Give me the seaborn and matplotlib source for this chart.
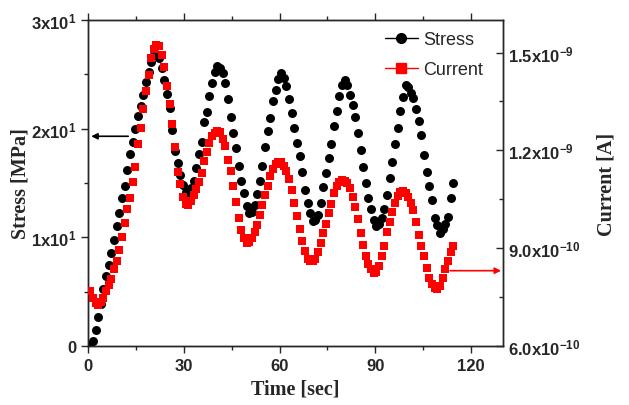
import numpy as np
import pandas as pd
import matplotlib
matplotlib.use("Agg")
import matplotlib.pyplot as plt
from matplotlib.lines import Line2D
from matplotlib.ticker import FixedLocator, FixedFormatter, MultipleLocator
import seaborn as sns

# -----------------------
# data
# -----------------------
time_sec = [
    0.70, 1.53, 2.36, 3.19, 4.02, 4.85, 5.68, 6.51, 7.34, 8.17,
    9.00, 9.83, 10.66, 11.49, 12.32, 13.15, 13.98, 14.81, 15.64, 16.47,
    17.30, 18.13, 18.96, 19.79, 20.62, 21.45, 22.28, 23.11, 23.94, 24.77,
    25.60, 26.43, 27.26, 28.09, 28.92, 29.75, 30.58, 31.41, 32.24, 33.07,
    33.90, 34.73, 35.56, 36.39, 37.22, 38.05, 38.88, 39.71, 40.54, 41.37,
    42.20, 43.03, 43.86, 44.69, 45.52, 46.35, 47.18, 48.01, 48.84, 49.67,
    50.50, 51.33, 52.16, 52.99, 53.82, 54.65, 55.48, 56.31, 57.14, 57.97,
    58.80, 59.63, 60.46, 61.29, 62.12, 62.95, 63.78, 64.61, 65.44, 66.27,
    67.10, 67.93, 68.76, 69.59, 70.42, 71.25, 72.08, 72.91, 73.74, 74.57,
    75.40, 76.23, 77.06, 77.89, 78.72, 79.55, 80.38, 81.21, 82.04, 82.87,
    83.70, 84.53, 85.36, 86.19, 87.02, 87.85, 88.68, 89.51, 90.34, 91.17,
    92.00, 92.83, 93.66, 94.49, 95.32, 96.15, 96.98, 97.81, 98.64, 99.47,
    100.30, 101.13, 101.96, 102.79, 103.62, 104.45, 105.28, 106.11, 106.94, 107.77,
    108.60, 109.43, 110.26, 111.09, 111.92, 112.75, 113.58, 114.41,
]

stress_mpa = [
    0.1, 0.5, 1.5, 2.7, 3.9, 5.2, 6.4, 7.5, 8.6, 9.8,
    11.0, 12.2, 13.6, 14.7, 16.2, 17.7, 18.8, 20.0, 21.2, 22.1,
    23.1, 24.3, 25.2, 26.1, 26.8, 26.9, 26.5, 25.6, 24.5, 23.2,
    21.9, 19.9, 17.9, 16.8, 15.7, 14.8, 14.2, 14.1, 14.5, 15.2,
    16.4, 17.7, 18.8, 20.6, 21.5, 23.0, 24.2, 25.2, 25.8, 25.6,
    25.1, 24.2, 22.7, 21.1, 19.6, 18.2, 16.6, 15.2, 14.1, 12.9,
    12.2, 12.3, 13.0, 14.0, 15.2, 16.6, 18.3, 19.8, 21.0, 22.5,
    23.6, 24.6, 25.1, 24.7, 23.9, 22.7, 21.4, 20.1, 18.7, 17.5,
    16.0, 14.4, 13.2, 12.2, 11.5, 11.6, 12.1, 13.2, 14.6, 15.9,
    17.3, 18.6, 20.2, 21.6, 23.0, 24.0, 24.5, 24.0, 23.1, 22.2,
    21.1, 19.6, 18.0, 16.5, 15.0, 13.6, 12.6, 11.6, 11.0, 11.2,
    11.8, 12.6, 13.9, 15.5, 16.9, 18.6, 20.1, 21.6, 22.9, 24.0,
    23.8, 23.3, 22.8, 21.8, 20.7, 19.4, 17.6, 16.0, 14.7, 13.4,
    11.8, 11.1, 10.4, 10.8, 11.2, 11.9, 13.6, 15.0,
]

# current in units of 1e-9 A
current_na = [
    0.768, 0.747, 0.732, 0.727, 0.734, 0.748, 0.768, 0.786, 0.805, 0.835,
    0.862, 0.896, 0.933, 0.977, 1.020, 1.055, 1.102, 1.150, 1.220, 1.268,
    1.327, 1.383, 1.432, 1.483, 1.510, 1.523, 1.519, 1.493, 1.455, 1.397,
    1.342, 1.280, 1.209, 1.133, 1.097, 1.058, 1.037, 1.033, 1.044, 1.062,
    1.081, 1.103, 1.132, 1.168, 1.196, 1.224, 1.243, 1.254, 1.260, 1.255,
    1.235, 1.213, 1.171, 1.138, 1.092, 1.042, 0.994, 0.956, 0.930, 0.917,
    0.918, 0.930, 0.950, 0.972, 1.002, 1.033, 1.064, 1.091, 1.120, 1.143,
    1.157, 1.163, 1.165, 1.153, 1.136, 1.113, 1.078, 1.040, 0.999, 0.960,
    0.922, 0.890, 0.868, 0.861, 0.862, 0.868, 0.887, 0.915, 0.946, 0.975,
    1.008, 1.037, 1.068, 1.092, 1.104, 1.109, 1.107, 1.099, 1.085, 1.058,
    1.026, 0.989, 0.948, 0.910, 0.876, 0.852, 0.836, 0.823, 0.826, 0.845,
    0.876, 0.908, 0.950, 0.980, 1.012, 1.040, 1.061, 1.071, 1.075, 1.070,
    1.058, 1.040, 1.016, 0.980, 0.942, 0.907, 0.875, 0.840, 0.810, 0.789,
    0.779, 0.775, 0.784, 0.808, 0.837, 0.862, 0.888, 0.906,
]

x_ticks = [0, 30, 60, 90, 120]
stress_ticks = [0, 10, 20, 30]
stress_tick_labels = ["0", r"1x10$^{1}$", r"2x10$^{1}$", r"3x10$^{1}$"]
current_ticks = [0.6, 0.9, 1.2, 1.5]
current_tick_labels = [r"6.0x10$^{-10}$", r"9.0x10$^{-10}$",
                       r"1.2x10$^{-9}$", r"1.5x10$^{-9}$"]

df = pd.DataFrame({"time": time_sec, "stress": stress_mpa, "current": current_na})

# -----------------------
# style
# -----------------------
sns.set_style("ticks")
plt.rcParams["font.family"] = ["Liberation Sans", "DejaVu Sans"]
plt.rcParams["mathtext.fontset"] = "custom"
plt.rcParams["mathtext.rm"] = "Liberation Sans:bold"
plt.rcParams["mathtext.it"] = "Liberation Sans:bold"
plt.rcParams["mathtext.bf"] = "Liberation Sans:bold"
plt.rcParams["axes.linewidth"] = 1.0

tick_font = {"family": "Liberation Sans", "weight": "bold", "size": 12}
label_font = {"family": "Liberation Serif", "weight": "bold", "size": 14.5}

fig = plt.figure(figsize=(6.29, 4.06), dpi=100)
ax = fig.add_axes([0.1399, 0.1453, 0.6598, 0.803])
ax2 = ax.twinx()

sns.scatterplot(data=df, x="time", y="stress", ax=ax, marker="o", s=42,
                color="black", linewidth=0, legend=False, zorder=2)
sns.scatterplot(data=df, x="time", y="current", ax=ax2, marker="s", s=32,
                color="#ff0000", linewidth=0, legend=False, zorder=3)

ax.set_xlim(0, 130)
ax.set_ylim(0, 30)
ax2.set_ylim(0.6, 1.6)

ax.xaxis.set_major_locator(FixedLocator(x_ticks))
ax.xaxis.set_minor_locator(MultipleLocator(15))
ax.yaxis.set_major_locator(FixedLocator(stress_ticks))
ax.yaxis.set_major_formatter(FixedFormatter(stress_tick_labels))
ax.yaxis.set_minor_locator(MultipleLocator(5))
ax2.yaxis.set_major_locator(FixedLocator(current_ticks))
ax2.yaxis.set_major_formatter(FixedFormatter(current_tick_labels))
ax2.yaxis.set_minor_locator(MultipleLocator(0.15))

ax.tick_params(axis="x", which="both", direction="out", top=True, labeltop=False)
ax.tick_params(axis="y", which="both", direction="out", right=False)
ax.tick_params(which="major", length=5, width=1)
ax.tick_params(which="minor", length=3, width=1)
ax2.tick_params(axis="y", which="major", direction="in", length=5, width=1)
ax2.tick_params(axis="y", which="minor", direction="in", length=3, width=1)

for lab in ax.get_xticklabels() + ax.get_yticklabels() + ax2.get_yticklabels():
    lab.set_fontproperties(matplotlib.font_manager.FontProperties(**tick_font))

ax.set_xlabel("Time [sec]", fontdict=label_font, labelpad=4)
ax.set_ylabel("Stress [MPa]", fontdict=label_font, labelpad=0)
ax2.set_ylabel("Current [A]", fontdict=label_font, rotation=90, labelpad=12)

for spine in ax.spines.values():
    spine.set_visible(True)
    spine.set_color("black")

# arrows pointing to each series' axis
ax.annotate("", xy=(1.0, 19.3), xytext=(12.6, 19.3),
            arrowprops=dict(arrowstyle="-|>", color="black", lw=1.2,
                            mutation_scale=9, shrinkA=0, shrinkB=0))
ax2.annotate("", xy=(129.4, 0.831), xytext=(113.4, 0.831),
             arrowprops=dict(arrowstyle="-|>", color="#ff0000", lw=1.2,
                             mutation_scale=9, shrinkA=0, shrinkB=0))

handles = [
    Line2D([], [], color="black", marker="o", markersize=7, lw=1),
    Line2D([], [], color="#ff0000", marker="s", markersize=7, lw=1),
]
ax2.legend(handles, ["Stress", "Current"], loc="upper left",
           bbox_to_anchor=(0.69, 1.0), frameon=False, prop={"family": "Liberation Sans", "size": 13},
           handlelength=1.8, handletextpad=0.3, labelspacing=0.75, borderaxespad=0.2)

fig.savefig("out.png", dpi=100)
